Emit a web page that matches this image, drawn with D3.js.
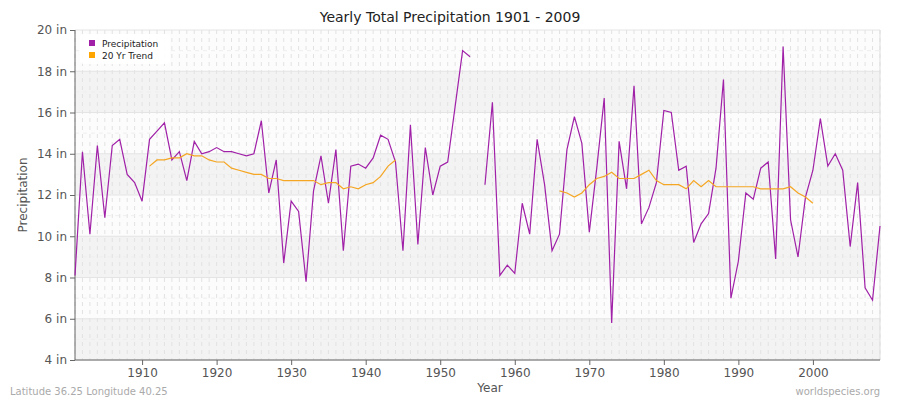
<!DOCTYPE html><html><head><meta charset="utf-8"><script src="https://cdn.jsdelivr.net/npm/d3@7"></script>
<style>body{margin:0;background:#fff}text{font-family:"DejaVu Sans",sans-serif}</style></head><body><svg id="c" width="900" height="400"></svg><script>
const startYear=1901;
const precip=[8.1,14.1,10.1,14.4,10.9,14.4,14.7,13.0,12.6,11.7,14.7,15.1,15.5,13.7,14.1,12.7,14.6,14.0,14.1,14.3,14.1,14.1,14.0,13.9,14.0,15.6,12.1,13.7,8.7,11.7,11.2,7.8,12.2,13.9,11.6,14.2,9.3,13.4,13.5,13.3,13.8,14.9,14.7,13.6,9.3,15.4,9.6,14.3,12.0,13.4,13.6,16.3,19.0,18.7,null,12.5,16.5,8.1,8.6,8.2,11.6,10.1,14.7,12.5,9.3,10.1,14.2,15.8,14.5,10.2,13.3,16.7,5.8,14.6,12.3,17.3,10.6,11.4,12.6,16.1,16.0,13.2,13.4,9.7,10.6,11.1,13.3,17.6,7.0,8.8,12.1,11.8,13.3,13.6,8.9,19.2,10.8,9.0,11.9,13.2,15.7,13.4,14.0,13.2,9.5,12.6,7.5,6.9,10.5];
const trendStart1=1911;
const trend1=[13.4,13.7,13.7,13.8,13.8,14.0,13.9,13.9,13.7,13.6,13.6,13.3,13.2,13.1,13.0,13.0,12.8,12.8,12.7,12.7,12.7,12.7,12.7,12.5,12.6,12.6,12.3,12.4,12.3,12.5,12.6,12.9,13.4,13.7];
const trendStart2=1966;
const trend2=[12.2,12.1,11.9,12.1,12.5,12.8,12.9,13.1,12.8,12.8,12.8,13.0,13.2,12.7,12.5,12.5,12.5,12.3,12.7,12.4,12.7,12.4,12.4,12.4,12.4,12.4,12.4,12.3,12.3,12.3,12.3,12.4,12.1,11.9,11.6];
const yTicks=[4,6,8,10,12,14,16,18,20];
const xTicks=[1910,1920,1930,1940,1950,1960,1970,1980,1990,2000];
const svg=d3.select("#c");
const L=75,R=880,T=30,B=360;
const x=d3.scaleLinear().domain([1901,2009]).range([L,R]);
const y=d3.scaleLinear().domain([4,20]).range([B,T]);
svg.append("rect").attr("x",L).attr("y",T).attr("width",R-L).attr("height",B-T).attr("fill","#fcfcfc");
for(let v=4;v<20;v+=2){svg.append("rect").attr("x",L).attr("y",y(v+2)).attr("width",R-L).attr("height",y(v)-y(v+2)).attr("fill",(v%4===0)?"#f3f3f3":"#fcfcfc");}
const g=svg.append("g");
for(let yr=1901;yr<=2009;yr++){g.append("line").attr("x1",x(yr)).attr("x2",x(yr)).attr("y1",T).attr("y2",B).attr("stroke","#e2e2e2").attr("stroke-dasharray","4,4");}
for(let v=5;v<20;v+=2){g.append("line").attr("x1",L).attr("x2",R).attr("y1",y(v)).attr("y2",y(v)).attr("stroke","#eeeeee").attr("stroke-dasharray","4,4");}
yTicks.forEach(v=>g.append("line").attr("x1",L).attr("x2",R).attr("y1",y(v)).attr("y2",y(v)).attr("stroke","#e4e4e4"));
svg.append("line").attr("x1",R).attr("x2",R).attr("y1",T).attr("y2",B).attr("stroke","#ddd");
const ya=svg.append("g").attr("transform",`translate(${L},0)`).call(d3.axisLeft(y).tickValues(yTicks).tickFormat(d=>d+" in").tickSize(5));
const xa=svg.append("g").attr("transform",`translate(0,${B})`).call(d3.axisBottom(x).tickValues(xTicks).tickFormat(d3.format("d")).tickSize(5));
[ya,xa].forEach(a=>{a.selectAll("path,line").attr("stroke","#666");a.selectAll("text").attr("fill","#555").attr("font-size",12);});
xa.select("path").attr("d",`M${L},0H${R}`);
ya.select("path").attr("d",`M0,${T}V${B}`);
const line=d3.line().defined(d=>d.v!=null).x(d=>x(d.yr)).y(d=>y(d.v));
const pd=precip.map((v,i)=>({yr:startYear+i,v}));
svg.append("path").attr("d",line(pd)).attr("fill","none").attr("stroke","#a020a8").attr("stroke-width",1.2);
[[trendStart1,trend1],[trendStart2,trend2]].forEach(([s,a])=>svg.append("path").attr("d",line(a.map((v,i)=>({yr:s+i,v})))).attr("fill","none").attr("stroke","#f5a623").attr("stroke-width",1.2));
svg.append("text").attr("x",450).attr("y",22).attr("text-anchor","middle").attr("font-size",14).attr("fill","#222").text("Yearly Total Precipitation 1901 - 2009");
svg.append("text").attr("x",490).attr("y",392).attr("text-anchor","middle").attr("font-size",12).attr("fill","#555").text("Year");
svg.append("text").attr("transform","translate(27,195) rotate(-90)").attr("text-anchor","middle").attr("font-size",12).attr("fill","#555").text("Precipitation");
svg.append("text").attr("x",10).attr("y",395).attr("font-size",10).attr("fill","#aaa").text("Latitude 36.25 Longitude 40.25");
svg.append("text").attr("x",880).attr("y",395).attr("text-anchor","end").attr("font-size",10).attr("fill","#aaa").text("worldspecies.org");
const lg=svg.append("g");
lg.append("rect").attr("x",80).attr("y",34).attr("width",90).attr("height",30).attr("rx",4).attr("fill","#fff").attr("opacity",0.9);
[["Precipitation","#a020a8"],["20 Yr Trend","#ffa500"]].forEach(([t,c],i)=>{lg.append("rect").attr("x",89).attr("y",40+i*12).attr("width",6).attr("height",6).attr("fill",c);lg.append("text").attr("x",102).attr("y",47+i*12).attr("font-size",9).attr("fill","#222").text(t);});
</script></body></html>
